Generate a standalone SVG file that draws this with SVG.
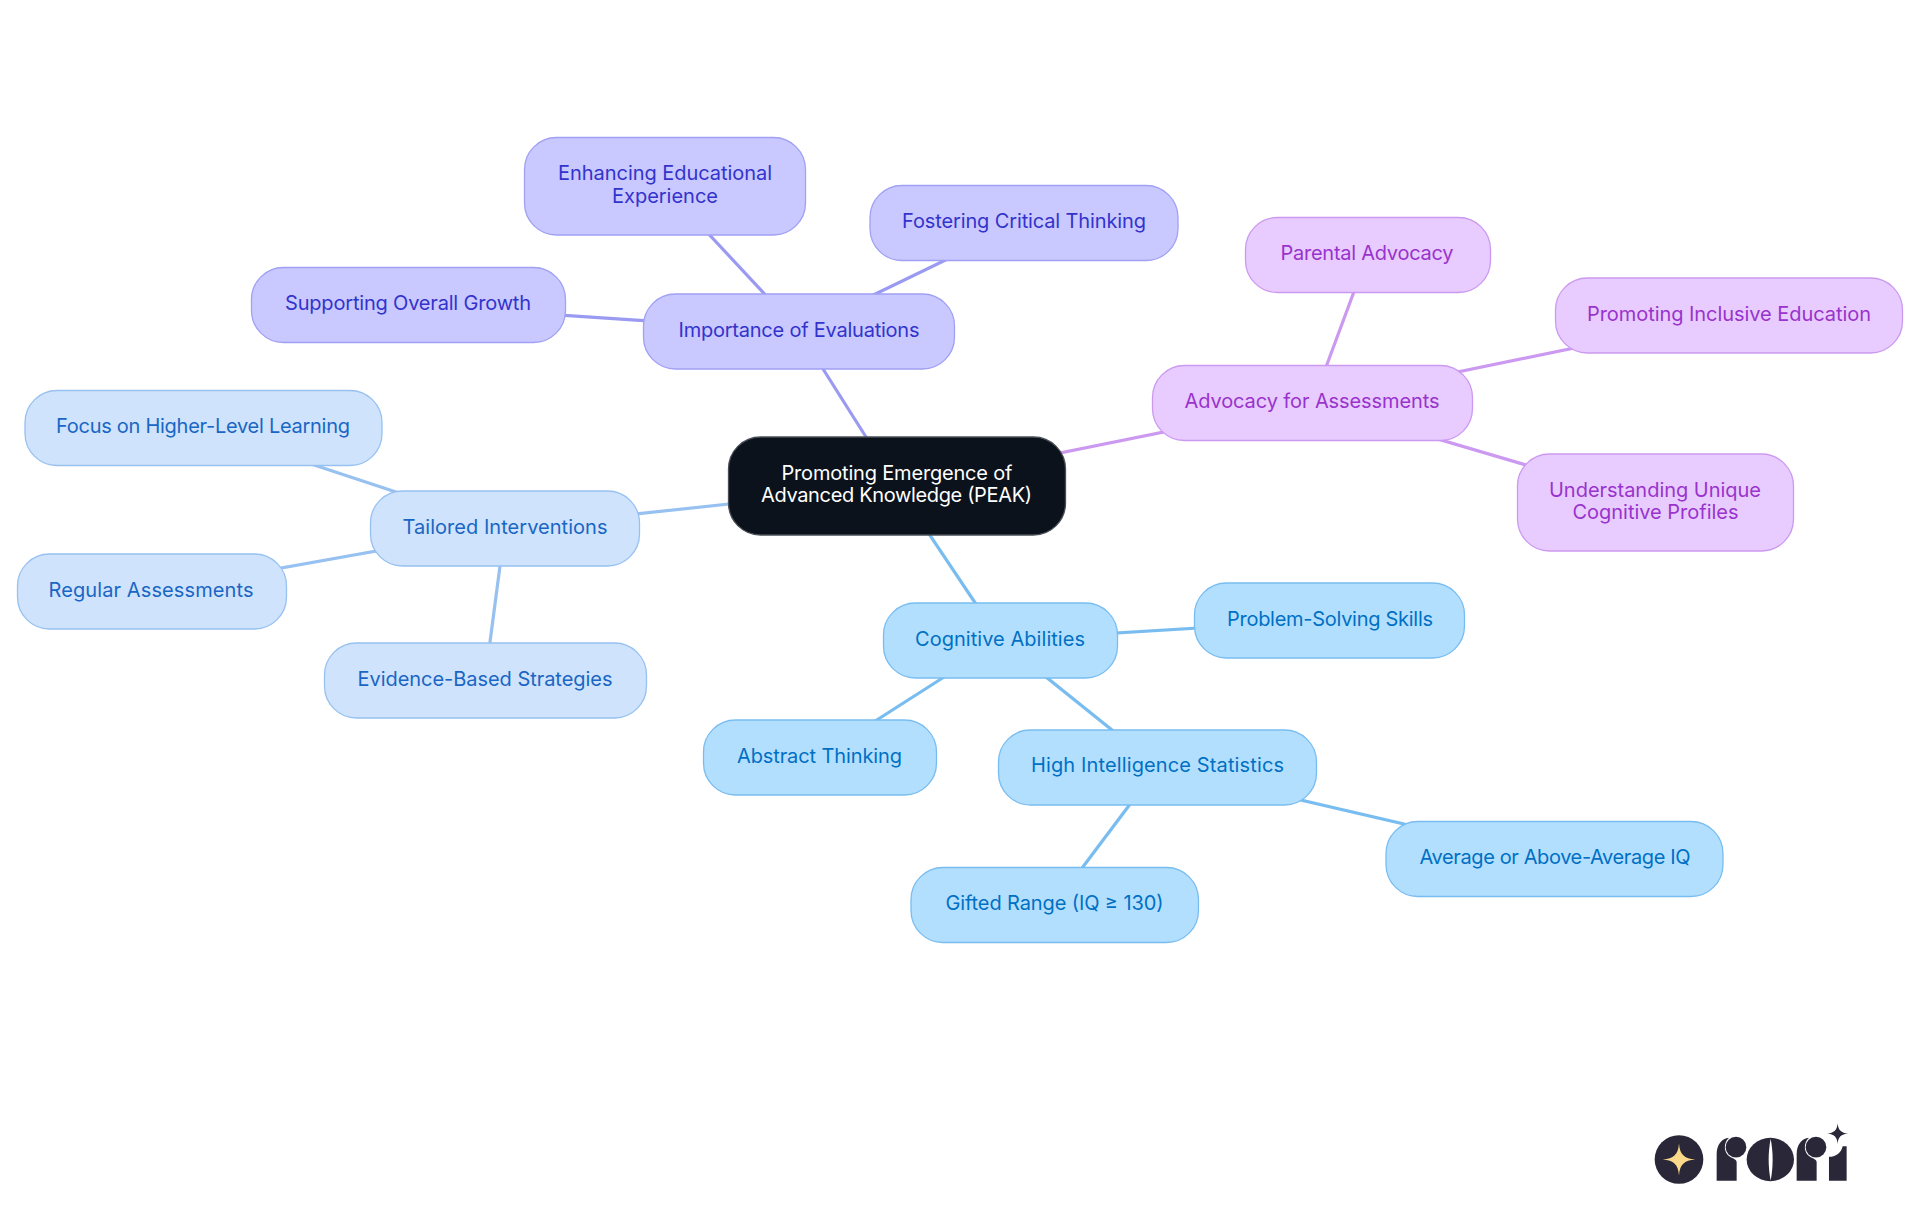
<svg xmlns="http://www.w3.org/2000/svg" width="1920" height="1215" viewBox="0 0 1920 1215">
<style>
text{font-family:"Inter","Noto Sans","Liberation Sans",sans-serif;font-size:20px;font-weight:400;text-anchor:middle}
rect{stroke-width:1.3}
line{stroke-width:3.2;fill:none}
.b rect{fill:#b3dfff;stroke:#79bdf0}.b text{fill:#0070c4}
.c rect{fill:#cfe3fc;stroke:#97c1f0}.c text{fill:#1a66c4}
.i rect{fill:#c9c9ff;stroke:#a0a0f5}.i text{fill:#3333cc}
.p rect{fill:#e8ccff;stroke:#cc99f0}.p text{fill:#9933cc}
.lb{stroke:#79bdf0}.lc{stroke:#97c1f0}.li{stroke:#9a9af2}.lp{stroke:#cc99f0}
.logo{fill:#2a2838}
</style>
<rect width="1920" height="1215" fill="#fff" style="stroke:none"/>
<g id="connectors">
<line class="li" x1="897" y1="486" x2="799" y2="331"/>
<line class="lp" x1="897" y1="486" x2="1312" y2="402"/>
<line class="lc" x1="897" y1="486" x2="505" y2="528"/>
<line class="lb" x1="897" y1="486" x2="1000" y2="640"/>
<line class="li" x1="799" y1="331" x2="664" y2="186"/>
<line class="li" x1="799" y1="331" x2="1024" y2="222"/>
<line class="li" x1="799" y1="331" x2="408" y2="305"/>
<line class="lp" x1="1313" y1="402" x2="1368" y2="254"/>
<line class="lp" x1="1312" y1="402" x2="1729" y2="316"/>
<line class="lp" x1="1312" y1="402" x2="1655" y2="503"/>
<line class="lc" x1="505" y1="528" x2="199" y2="427"/>
<line class="lc" x1="505" y1="528" x2="152" y2="591"/>
<line class="lc" x1="505" y1="528" x2="485" y2="680"/>
<line class="lb" x1="1000" y1="640" x2="1330" y2="620"/>
<line class="lb" x1="1002" y1="640" x2="822" y2="755"/>
<line class="lb" x1="1000" y1="640" x2="1158" y2="767"/>
<line class="lb" x1="1158" y1="767" x2="1555" y2="859"/>
<line class="lb" x1="1158" y1="767" x2="1055" y2="904"/>
</g>
<g id="root"><rect x="728.5" y="437" width="337" height="98" rx="32" fill="#0b121b" stroke="#4a4f57"/><text x="897" y="480" fill="#fff" textLength="231">Promoting Emergence of</text><text x="896.5" y="502" fill="#fff" textLength="271">Advanced Knowledge (PEAK)</text></g>
<g id="importance" class="i"><rect x="643.5" y="294" width="311" height="75" rx="32"/><text x="799" y="337" textLength="241">Importance of Evaluations</text></g>
<g id="enhancing" class="i"><rect x="524.5" y="137.5" width="281" height="97.5" rx="32"/><text x="665" y="180.4" textLength="214">Enhancing Educational</text><text x="665" y="203" textLength="106">Experience</text></g>
<g id="fostering" class="i"><rect x="870" y="185.5" width="308" height="75" rx="32"/><text x="1024" y="228" textLength="244">Fostering Critical Thinking</text></g>
<g id="supporting" class="i"><rect x="251.5" y="267.5" width="314" height="75" rx="32"/><text x="408" y="310" textLength="246">Supporting Overall Growth</text></g>
<g id="advocacy" class="p"><rect x="1152.5" y="365.5" width="320" height="75" rx="32"/><text x="1312" y="408" textLength="255">Advocacy for Assessments</text></g>
<g id="parental" class="p"><rect x="1245.5" y="217.5" width="245" height="75" rx="32"/><text x="1367" y="260" textLength="173">Parental Advocacy</text></g>
<g id="inclusive" class="p"><rect x="1555.5" y="278" width="347" height="75" rx="32"/><text x="1729" y="321" textLength="284">Promoting Inclusive Education</text></g>
<g id="understanding" class="p"><rect x="1517.5" y="454" width="276" height="97" rx="32"/><text x="1655" y="497" textLength="212">Understanding Unique</text><text x="1655.5" y="519" textLength="166">Cognitive Profiles</text></g>
<g id="tailored" class="c"><rect x="370.5" y="491" width="269" height="75" rx="32"/><text x="505" y="534" textLength="205">Tailored Interventions</text></g>
<g id="focus" class="c"><rect x="25" y="390.5" width="357" height="75" rx="32"/><text x="203" y="433" textLength="294">Focus on Higher-Level Learning</text></g>
<g id="regular" class="c"><rect x="17.5" y="554" width="269" height="75" rx="32"/><text x="151" y="597" textLength="205">Regular Assessments</text></g>
<g id="evidence" class="c"><rect x="324.5" y="643" width="322" height="75" rx="32"/><text x="485" y="686" textLength="255">Evidence-Based Strategies</text></g>
<g id="cognitive" class="b"><rect x="883.5" y="603" width="234" height="75" rx="32"/><text x="1000" y="646" textLength="170">Cognitive Abilities</text></g>
<g id="problem" class="b"><rect x="1194.5" y="583" width="270" height="75" rx="32"/><text x="1330" y="626" textLength="206">Problem-Solving Skills</text></g>
<g id="abstract" class="b"><rect x="703.5" y="720" width="233" height="75" rx="32"/><text x="819.5" y="763" textLength="165">Abstract Thinking</text></g>
<g id="high" class="b"><rect x="998.5" y="730" width="318" height="75" rx="32"/><text x="1157.5" y="772" textLength="253">High Intelligence Statistics</text></g>
<g id="average" class="b"><rect x="1386" y="821.5" width="337" height="75" rx="32"/><text x="1555" y="864" textLength="271">Average or Above-Average IQ</text></g>
<g id="gifted" class="b"><rect x="911" y="867.5" width="287.5" height="75" rx="32"/><text x="1054.5" y="910" textLength="218">Gifted Range (IQ ≥ 130)</text></g>
<g id="logo" transform="translate(1620 1099.5) scale(.3333)">
<circle class="logo" cx="177" cy="180" r="73"/>
<path d="M177 132C180 166 192 177 226 180C192 183 180 194 177 228C174 194 162 183 128 180C162 177 174 166 177 132Z" fill="#fbd98a"/>
<path class="logo" d="M290 244V165C290 135 305 118 327 115C310 130 310 160 330 172C340 178 350 180 350 188V244Z"/>
<circle class="logo" cx="348" cy="143" r="31"/>
<ellipse class="logo" cx="451" cy="180" rx="71" ry="65"/>
<path d="M452 118C444 160 444 200 452 244C460 200 460 160 452 118Z" fill="#fff"/>
<path class="logo" d="M530 244V165C530 135 545 118 567 115C550 130 550 160 570 172C580 178 590 180 590 188V244Z"/>
<circle class="logo" cx="588" cy="143" r="31"/>
<path class="logo" d="M627 244V172C650 172 664 158 668 140H680V244Z"/>
<path class="logo" d="M653 71C655 92 663 100 685 102C663 104 655 112 653 133C651 112 643 104 621 102C643 100 651 92 653 71Z"/>
</g>
</svg>
